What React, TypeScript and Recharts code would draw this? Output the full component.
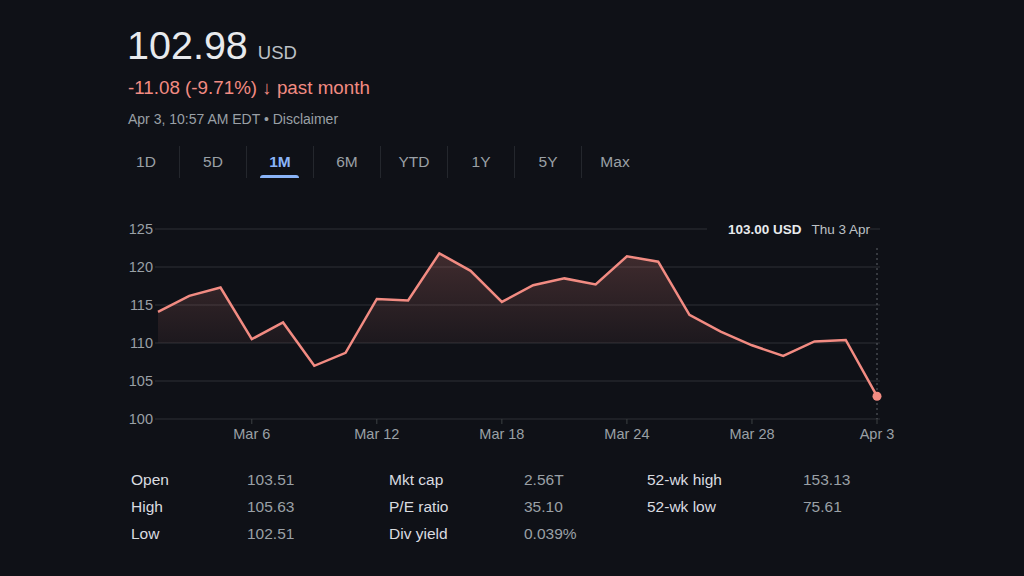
import React from "react";
import {
  ComposedChart,
  Area,
  XAxis,
  YAxis,
  CartesianGrid,
  ReferenceLine,
  ReferenceDot,
} from "recharts";

// one month of daily prices, last point is intraday
const DATES = [
  "Mar 3", "Mar 4", "Mar 5", "Mar 6", "Mar 7",
  "Mar 10", "Mar 11", "Mar 12", "Mar 13", "Mar 14",
  "Mar 17", "Mar 18", "Mar 19", "Mar 20", "Mar 21",
  "Mar 24", "Mar 25", "Mar 26", "Mar 27", "Mar 28",
  "Mar 31", "Apr 1", "Apr 2", "Apr 3",
];
const CLOSES = [
  114.1, 116.2, 117.3, 110.5, 112.7,
  107.0, 108.7, 115.8, 115.6, 121.8,
  119.5, 115.4, 117.6, 118.5, 117.7,
  121.4, 120.7, 113.7, 111.5, 109.7,
  108.3, 110.2, 110.4, 103.0,
];
const X_TICKS = ["Mar 6", "Mar 12", "Mar 18", "Mar 24", "Mar 28", "Apr 3"];
const Y_TICKS = [100, 105, 110, 115, 120, 125];
const BASELINE = 110;

const RANGES = ["1D", "5D", "1M", "6M", "YTD", "1Y", "5Y", "Max"];
const ACTIVE_RANGE = "1M";

const STATS: [string, string][][] = [
  [["Open", "103.51"], ["High", "105.63"], ["Low", "102.51"]],
  [["Mkt cap", "2.56T"], ["P/E ratio", "35.10"], ["Div yield", "0.039%"]],
  [["52-wk high", "153.13"], ["52-wk low", "75.61"]],
];

const BG = "#0f1117";
const RED = "#f28b82";
const FONT = "Arial, 'Liberation Sans', sans-serif";

const data = DATES.map((d, i) => ({ date: d, price: CLOSES[i] }));
const last = data[data.length - 1];

// gradient stops: fade toward the baseline, hide anything under it
const top = Math.max(...CLOSES);
const bottom = Math.min(...CLOSES, BASELINE);
const cut = (top - BASELINE) / (top - bottom);

export default function App() {
  return (
    <div
      style={{
        position: "absolute",
        left: 0,
        top: 0,
        width: 1024,
        height: 576,
        background: BG,
        fontFamily: FONT,
        overflow: "hidden",
      }}
    >
      <div style={{ position: "absolute", left: 127, top: 23, color: "#e8eaed", whiteSpace: "nowrap" }}>
        <span style={{ fontSize: 39.5 }}>102.98</span>
        <span style={{ fontSize: 18.5, color: "#bdc1c6", marginLeft: 10 }}>USD</span>
      </div>
      <div style={{ position: "absolute", left: 128, top: 77, fontSize: 18.8, color: RED, whiteSpace: "nowrap" }}>
        -11.08 (-9.71%) <b>↓</b> past month
      </div>
      <div style={{ position: "absolute", left: 128, top: 111, fontSize: 14, color: "#9aa0a6", whiteSpace: "nowrap" }}>
        Apr 3, 10:57 AM EDT • Disclaimer
      </div>

      <div style={{ position: "absolute", left: 113, top: 146, display: "flex" }}>
        {RANGES.map((r, i) => (
          <div
            key={r}
            style={{
              width: 66,
              height: 32,
              position: "relative",
              display: "flex",
              alignItems: "center",
              justifyContent: "center",
              fontSize: 15.5,
              color: r === ACTIVE_RANGE ? "#8ab4f8" : "#9aa0a6",
              fontWeight: r === ACTIVE_RANGE ? 600 : 400,
              borderLeft: i > 0 ? "1px solid #24272d" : "none",
            }}
          >
            {r}
            {r === ACTIVE_RANGE && (
              <div
                style={{
                  position: "absolute",
                  bottom: 0,
                  left: 13,
                  width: 39,
                  height: 3,
                  borderRadius: "3px 3px 0 0",
                  background: "#8ab4f8",
                }}
              />
            )}
          </div>
        ))}
      </div>

      <div style={{ position: "absolute", left: 110, top: 215 }}>
        <ComposedChart
          width={800}
          height={235}
          data={data}
          margin={{ top: 14, right: 30, bottom: 0, left: 5 }}
        >
          <defs>
            <linearGradient id="priceFill" x1="0" y1="0" x2="0" y2="1">
              <stop offset={0} stopColor={RED} stopOpacity={0.36} />
              <stop offset={cut} stopColor={RED} stopOpacity={0.1} />
              <stop offset={cut + 0.002} stopColor={RED} stopOpacity={0} />
              <stop offset={1} stopColor={RED} stopOpacity={0} />
            </linearGradient>
          </defs>
          <CartesianGrid stroke="#2e3036" vertical={false} />
          <XAxis
            dataKey="date"
            ticks={X_TICKS}
            interval={0}
            padding={{ left: 3, right: 3 }}
            axisLine={false}
            tickLine={{ stroke: "#3c4043" }}
            tickSize={5}
            tickMargin={5}
            tick={{ fill: "#9aa0a6", fontSize: 14.5, fontFamily: FONT }}
            height={31}
          />
          <YAxis
            domain={[100, 125]}
            ticks={Y_TICKS}
            axisLine={false}
            tickLine={false}
            tickSize={0}
            tickMargin={2}
            width={40}
            tick={{ fill: "#9aa0a6", fontSize: 14.5, fontFamily: FONT }}
          />
          <ReferenceLine
            segment={[
              { x: last.date, y: 122.5 },
              { x: last.date, y: 100 },
            ]}
            stroke="#5f6368"
            strokeDasharray="2 3"
          />
          <Area
            type="linear"
            dataKey="price"
            baseValue={BASELINE}
            stroke={RED}
            strokeWidth={2.5}
            fill="url(#priceFill)"
            dot={false}
            activeDot={false}
            isAnimationActive={false}
          />
          <ReferenceDot x={last.date} y={last.price} r={4.5} fill={RED} stroke="none" />
        </ComposedChart>
      </div>

      <div
        style={{
          position: "absolute",
          left: 707,
          top: 220,
          width: 163,
          height: 18,
          background: BG,
          display: "flex",
          justifyContent: "flex-end",
          alignItems: "center",
          fontSize: 13.5,
          whiteSpace: "nowrap",
        }}
      >
        <span style={{ color: "#e8eaed", fontWeight: 700 }}>{last.price.toFixed(2)} USD</span>
        <span style={{ color: "#bdc1c6", marginLeft: 10 }}>Thu 3 Apr</span>
      </div>

      {STATS.map((col, ci) => (
        <div key={ci} style={{ position: "absolute", left: [131, 389, 647][ci], top: 471 }}>
          {col.map(([label, value]) => (
            <div key={label} style={{ position: "relative", height: 27, fontSize: 15.5, whiteSpace: "nowrap" }}>
              <span style={{ color: "#dadce0" }}>{label}</span>
              <span style={{ position: "absolute", left: [116, 135, 156][ci], color: "#9aa0a6" }}>{value}</span>
            </div>
          ))}
        </div>
      ))}
    </div>
  );
}
